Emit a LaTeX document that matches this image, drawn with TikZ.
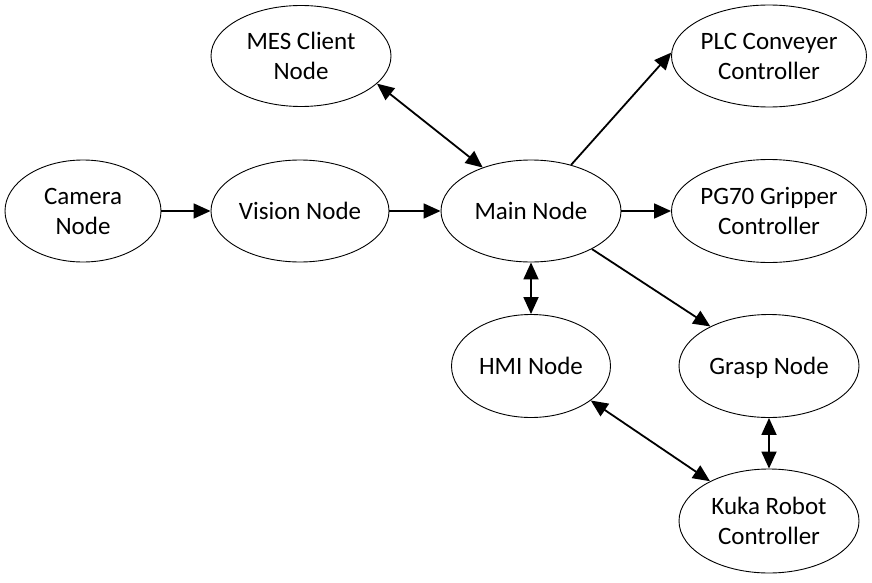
\documentclass[tikz,border=0pt]{standalone}
\usepackage{fontspec}
\setmainfont{Carlito}
\usetikzlibrary{shapes.geometric,arrows.meta}
\tikzset{
  ell/.style={draw, ellipse, line width=0.9pt, inner sep=0pt, align=center,
              font=\fontsize{25}{30}\selectfont},
  tipA/.tip={Triangle[length=17pt,width=15pt]},
  conn/.style={line width=1.8pt, -tipA},
  bconn/.style={line width=1.8pt, tipA-tipA},
}
\begin{document}
\begin{tikzpicture}[x=1pt,y=-1pt]
\useasboundingbox (0,0) rectangle (872,583);
\node[ell, minimum width=156pt, minimum height=102pt] (cam) at (83,211) {Camera\\Node};
\node[ell, minimum width=178pt, minimum height=102pt] (vis) at (300,211) {Vision Node};
\node[ell, minimum width=180pt, minimum height=102pt] (main) at (531,211) {Main Node};
\node[ell, minimum width=180pt, minimum height=101pt] (mes) at (301,56) {MES Client\\Node};
\node[ell, minimum width=195pt, minimum height=102pt] (plc) at (769,56) {PLC Conveyer\\Controller};
\node[ell, minimum width=195pt, minimum height=103pt] (pg) at (769,211) {PG70 Gripper\\Controller};
\node[ell, minimum width=159pt, minimum height=103pt] (hmi) at (531,366) {HMI Node};
\node[ell, minimum width=180pt, minimum height=103pt] (grasp) at (769,366) {\raisebox{0pt}[\height][0pt]{Grasp Node}};
\node[ell, minimum width=180pt, minimum height=104pt] (kuka) at (769,521) {Kuka Robot\\Controller};

\draw[conn] (cam.east) -- (vis.west);
\draw[conn] (vis.east) -- (main.west);
\draw[conn] (main.east) -- (pg.west);
\draw[bconn] (mes.-20) -- (main.138);
\draw[conn] (main.49) -- (plc.178);
\draw[conn] (main.-32) -- (grasp.146);
\draw[bconn] (main.south) -- (hmi.north);
\draw[bconn] (hmi.-30) -- (kuka.146);
\draw[bconn] (grasp.south) -- (kuka.north);
\end{tikzpicture}
\end{document}
